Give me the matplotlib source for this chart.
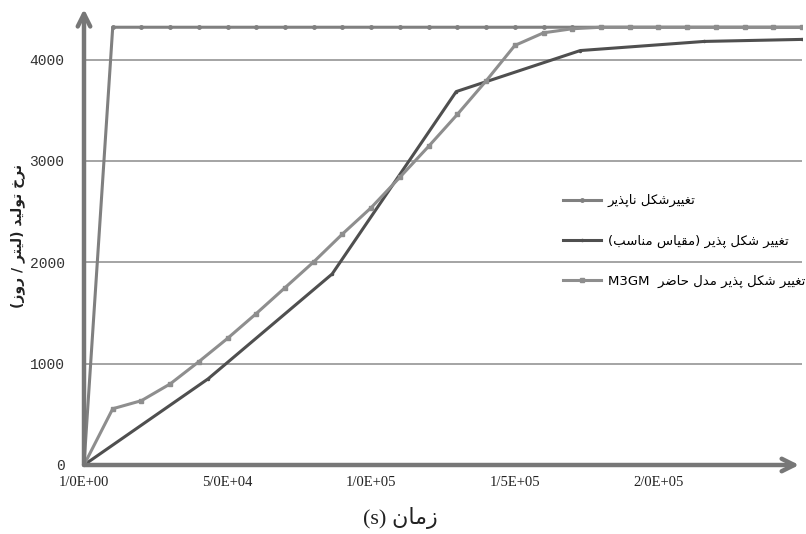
import matplotlib
matplotlib.use("Agg")
import matplotlib.pyplot as plt

# --- data ---
t_rigid = [0, 1e4, 2e4, 3e4, 4e4, 5e4, 6e4, 7e4, 8e4, 9e4, 10e4, 11e4, 12e4, 13e4,
           14e4, 15e4, 16e4, 17e4, 18e4, 19e4, 20e4, 21e4, 22e4, 23e4, 24e4, 25e4]
q_rigid = [0, 4320, 4320, 4320, 4320, 4320, 4320, 4320, 4320, 4320, 4320, 4320, 4320, 4320,
           4320, 4320, 4320, 4320, 4320, 4320, 4320, 4320, 4320, 4320, 4320, 4320]

t_scaled = [0, 43200, 86400, 129600, 172800, 216000, 250000]
q_scaled = [0, 850, 1885, 3685, 4090, 4180, 4200]

t_m3gm = [0, 1e4, 2e4, 3e4, 4e4, 5e4, 6e4, 7e4, 8e4, 9e4, 10e4, 11e4, 12e4, 13e4,
          14e4, 15e4, 16e4, 17e4, 18e4, 19e4, 20e4, 21e4, 22e4, 23e4, 24e4, 25e4]
q_m3gm = [0, 555, 635, 800, 1020, 1250, 1495, 1750, 2005, 2280, 2540, 2840, 3145, 3460,
          3790, 4140, 4265, 4305, 4320, 4320, 4320, 4320, 4320, 4320, 4320, 4320]

xticks = [0, 5e4, 10e4, 15e4, 20e4]
xticklabels = ["1/0E+00", "5/0E+04", "1/0E+05", "1/5E+05", "2/0E+05"]
yticks = [0, 1000, 2000, 3000, 4000]

# --- small Persian shaper (matplotlib has no Arabic shaping) ---
FORMS = {
    'ا': ('\uFE8D', '\uFE8E'), 'د': ('\uFEA9', '\uFEAA'), 'ذ': ('\uFEAB', '\uFEAC'),
    'ر': ('\uFEAD', '\uFEAE'), 'ز': ('\uFEAF', '\uFEB0'), 'و': ('\uFEED', '\uFEEE'),
    'ب': ('\uFE8F', '\uFE90', '\uFE91', '\uFE92'), 'پ': ('\uFB56', '\uFB57', '\uFB58', '\uFB59'),
    'ت': ('\uFE95', '\uFE96', '\uFE97', '\uFE98'), 'ح': ('\uFEA1', '\uFEA2', '\uFEA3', '\uFEA4'),
    'خ': ('\uFEA5', '\uFEA6', '\uFEA7', '\uFEA8'), 'س': ('\uFEB1', '\uFEB2', '\uFEB3', '\uFEB4'),
    'ش': ('\uFEB5', '\uFEB6', '\uFEB7', '\uFEB8'), 'ض': ('\uFEBD', '\uFEBE', '\uFEBF', '\uFEC0'),
    'غ': ('\uFECD', '\uFECE', '\uFECF', '\uFED0'), 'ق': ('\uFED5', '\uFED6', '\uFED7', '\uFED8'),
    'ک': ('\uFB8E', '\uFB8F', '\uFB90', '\uFB91'), 'ل': ('\uFEDD', '\uFEDE', '\uFEDF', '\uFEE0'),
    'م': ('\uFEE1', '\uFEE2', '\uFEE3', '\uFEE4'), 'ن': ('\uFEE5', '\uFEE6', '\uFEE7', '\uFEE8'),
    'ی': ('\uFBFC', '\uFBFD', '\uFBFE', '\uFBFF'),
}


def rtl(s):
    out = []
    for i, c in enumerate(s):
        if c not in FORMS:
            out.append(c)
            continue
        f = FORMS[c]
        prev = s[i - 1] if i > 0 else ''
        nxt = s[i + 1] if i + 1 < len(s) else ''
        jp = prev in FORMS and len(FORMS[prev]) == 4
        jn = len(f) == 4 and nxt in FORMS
        if jp and jn:
            out.append(f[3])
        elif jp:
            out.append(f[1])
        elif jn:
            out.append(f[2])
        else:
            out.append(f[0])
    vis = ''.join(reversed(out))
    return vis.translate(str.maketrans('()', ')('))


labels = [rtl("تغییرشکل ناپذیر"),
          rtl("تغییر شکل پذیر (مقیاس مناسب)"),
          "M3GM  " + rtl("تغییر شکل پذیر مدل حاضر")]

fig = plt.figure(figsize=(8.06, 5.34), dpi=100)
ax = fig.add_axes([84 / 806, 69 / 534, 718 / 806, 456 / 534])
ax.set_xlim(0, 2.5e5)
ax.set_ylim(0, 4500)

for y in yticks[1:]:
    ax.axhline(y, color="#8c8c8c", lw=1.1, zorder=1)

ax.plot(t_rigid, q_rigid, color="#808080", lw=2.2, marker="o", ms=2.5, label=labels[0], zorder=3)
ax.plot(t_scaled, q_scaled, color="#4f4f4f", lw=2.2, marker="o", ms=1.5, label=labels[1], zorder=3)
ax.plot(t_m3gm, q_m3gm, color="#8e8e8e", lw=2.2, marker="s", ms=2.5, label=labels[2], zorder=4)

for s in ax.spines.values():
    s.set_visible(False)

# arrow axes
arrow = dict(arrowstyle="->,head_length=0.9,head_width=0.45", color="#777777", lw=3.2,
             shrinkA=0, shrinkB=0)
ax.annotate("", xy=(0, 1.0), xytext=(0, 0), xycoords="axes fraction", arrowprops=arrow,
            annotation_clip=False, zorder=5)
ax.annotate("", xy=(0.996, 0), xytext=(0, 0), xycoords="axes fraction", arrowprops=arrow,
            annotation_clip=False, zorder=5)

ax.set_xticks(xticks)
ax.set_xticklabels(xticklabels, fontfamily="Liberation Serif", fontsize=10.5, color="#222222")
ax.set_yticks(yticks)
ax.set_yticklabels([str(v) for v in yticks], fontfamily="Liberation Mono", fontsize=10.5,
                   color="#333333")
ax.tick_params(length=0, pad=8)
ax.tick_params(axis="y", pad=14)

fig.text(400 / 806, 1 - 518 / 534, "(s) " + rtl("زمان"), ha="center", va="center",
         fontsize=16, family=["Liberation Serif", "DejaVu Sans"], color="#222222")
fig.text(18 / 806, 1 - 236 / 534, rtl("نرخ تولید (لیتر / روز)"), rotation=90, ha="center",
         va="center", fontsize=10, fontweight="bold", family="DejaVu Sans", color="#222222")

leg = fig.legend(loc="center left", bbox_to_anchor=(563 / 806, 1 - 241 / 534), frameon=False,
                 fontsize=9.5, handlelength=2.9, labelspacing=2.05, handletextpad=0.5,
                 borderaxespad=0, borderpad=0)

fig.savefig("out.png", dpi=100)
